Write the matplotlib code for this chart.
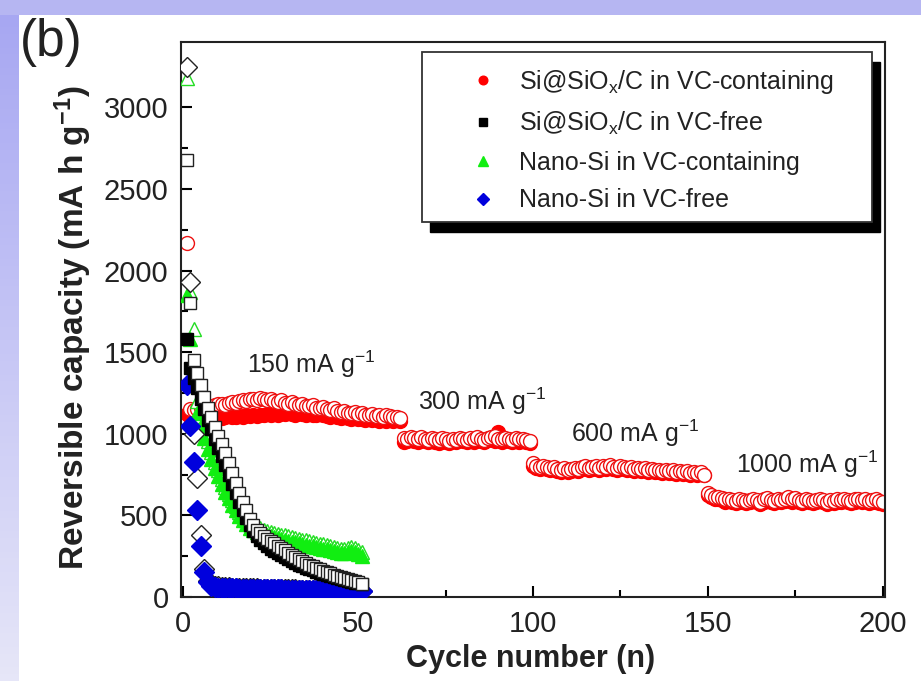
import numpy as np
import matplotlib.pyplot as plt
from matplotlib.patches import Rectangle
from matplotlib.ticker import MultipleLocator

plt.rcParams['font.family'] = ['Liberation Sans', 'DejaVu Sans']
plt.rcParams['mathtext.fontset'] = 'custom'
plt.rcParams['mathtext.rm'] = 'Liberation Sans'
plt.rcParams['mathtext.it'] = 'Liberation Sans:italic'
plt.rcParams['mathtext.bf'] = 'Liberation Sans:bold'

# Si@SiOx/C in VC-containing electrolyte, 200 cycles (rate steps 150/300/600/1000 mA/g)
sic_vc_dis = [2170, 1150, 1145, 1150, 1160, 1165, 1170, 1160, 1175, 1180,
              1185, 1178, 1190, 1195, 1188, 1200, 1205, 1198, 1210, 1215,
              1208, 1220, 1212, 1205, 1215, 1200, 1195, 1205, 1190, 1185,
              1192, 1180, 1175, 1185, 1170, 1168, 1175, 1160, 1155, 1162,
              1150, 1148, 1155, 1140, 1135, 1142, 1130, 1128, 1135, 1120,
              1125, 1118, 1115, 1122, 1110, 1112, 1105, 1115, 1108, 1102,
              1105, 1098,
              975, 968, 980, 972, 965, 978, 970, 962,
              975, 968, 960, 972, 965, 958, 970, 963, 975, 968,
              960, 972, 965, 978, 970, 962, 975, 980, 985, 970,
              965, 975, 968, 960, 972, 965, 970, 962, 955,
              820, 805, 798, 802, 795, 790, 798, 785, 780, 792,
              775, 785, 790, 782, 795, 800, 788, 796, 805, 792,
              800, 795, 808, 798, 790, 802, 795, 788, 796, 785,
              790, 782, 788, 778, 785, 775, 780, 772, 778, 770,
              775, 768, 772, 765, 770, 762, 768, 760, 765, 750,
              640, 625, 615, 610, 605, 598, 602, 595, 590, 598,
              592, 588, 595, 600, 592, 585, 598, 605, 595, 590,
              600, 595, 602, 610, 598, 605, 595, 590, 600, 595,
              588, 595, 600, 592, 585, 595, 590, 598, 592, 600,
              595, 590, 598, 602, 595, 600, 590, 595, 598, 588, 580]
sic_vc_chg = [1120, 1100, 1095, 1090, 1095, 1100, 1092, 1098, 1105, 1100,
              1095, 1102, 1108, 1100, 1105, 1110, 1104, 1112, 1108, 1115,
              1110, 1118, 1112, 1120, 1115, 1122, 1118, 1125, 1120, 1128,
              1122, 1118, 1125, 1120, 1115, 1122, 1118, 1112, 1120, 1115,
              1110, 1105, 1112, 1100, 1095, 1102, 1098, 1090, 1095, 1088,
              1092, 1085, 1090, 1082, 1088, 1080, 1085, 1078, 1082, 1080,
              1085, 1080,
              950, 955, 962, 958, 950, 960, 955, 948,
              958, 952, 945, 955, 950, 945, 955, 950, 960, 955,
              948, 958, 952, 962, 958, 950, 960, 965, 958, 1010,
              952, 960, 955, 948, 958, 952, 958, 950, 945,
              800, 790, 785, 790, 782, 778, 785, 772, 768, 780,
              765, 772, 778, 770, 782, 788, 776, 784, 792, 780,
              788, 782, 795, 786, 778, 790, 782, 776, 784, 772,
              778, 770, 776, 766, 772, 764, 768, 760, 766, 758,
              762, 756, 760, 752, 758, 750, 755, 748, 752, 745,
              625, 612, 602, 598, 592, 585, 590, 582, 578, 585,
              580, 575, 582, 588, 580, 572, 585, 592, 582, 578,
              588, 582, 590, 598, 585, 592, 582, 578, 588, 582,
              575, 582, 588, 580, 572, 582, 578, 585, 580, 588,
              582, 578, 585, 590, 582, 588, 578, 582, 585, 575, 570]

# Si@SiOx/C in VC-free electrolyte, 51 cycles
sic_free_dis = [2680, 1800, 1450, 1370, 1300, 1225, 1160, 1100, 1040, 985,
                935, 880, 820, 760, 700, 640, 585, 530, 480, 440,
                412, 390, 372, 356, 342, 328, 315, 302, 290, 270,
                255, 242, 230, 218, 207, 197, 187, 178, 169, 160,
                152, 144, 137, 130, 123, 116, 110, 104, 98, 92, 80]
sic_free_chg = [1580, 1400, 1340, 1280, 1215, 1150, 1085, 1030, 970, 915,
                865, 810, 750, 690, 635, 585, 535, 485, 440, 405,
                375, 350, 330, 312, 296, 282, 268, 255, 243, 232,
                220, 209, 199, 189, 180, 171, 163, 155, 147, 140,
                133, 126, 120, 114, 108, 103, 98, 93, 88, 84, 78]

# Nano-Si in VC-containing electrolyte, 51 cycles
nsi_vc_dis = [3180, 1870, 1640, 1200, 1110, 1030, 955, 890, 830, 775,
              722, 675, 632, 592, 556, 523, 495, 470, 450, 438,
              428, 420, 413, 406, 400, 394, 388, 382, 377, 372,
              367, 362, 357, 352, 347, 342, 337, 332, 327, 322,
              317, 312, 306, 300, 295, 292, 300, 308, 302, 290, 275]
nsi_vc_chg = [1850, 1580, 1300, 1130, 1050, 975, 905, 845, 790, 740,
              690, 645, 605, 565, 530, 498, 470, 445, 425, 410,
              400, 392, 385, 378, 372, 366, 360, 355, 350, 345,
              340, 336, 330, 325, 320, 315, 310, 305, 300, 296,
              292, 288, 283, 278, 272, 268, 275, 282, 278, 265, 250]

# Nano-Si in VC-free electrolyte, 51 cycles
nsi_free_dis = [3245, 1930, 1000, 730, 380, 170, 100, 80,
                70, 65, 62, 60, 59, 58, 57, 56, 55, 55,
                54, 53, 53, 52, 51, 51, 50, 50, 49, 48,
                48, 47, 47, 46, 45, 45, 44, 44, 43, 42,
                42, 41, 41, 40, 39, 39, 38, 38, 37, 36,
                36, 35, 35]
nsi_free_chg = [1300, 1050, 830, 530, 310, 155, 90, 70, 62, 58,
                56, 55, 54, 54, 53, 52, 52, 51, 50, 50,
                49, 49, 48, 48, 47, 47, 46, 46, 45, 45,
                44, 44, 43, 43, 42, 42, 41, 41, 40, 40,
                39, 39, 38, 38, 37, 37, 36, 36, 35, 35, 34]

labels = [r'Si@SiO$_\mathregular{x}$/C in VC-containing',
          r'Si@SiO$_\mathregular{x}$/C in VC-free',
          'Nano-Si in VC-containing',
          'Nano-Si in VC-free']
rate_labels = [r'150 mA g$^\mathregular{-1}$', r'300 mA g$^\mathregular{-1}$',
               r'600 mA g$^\mathregular{-1}$', r'1000 mA g$^\mathregular{-1}$']


def cyc(v):
    return np.arange(1, len(v) + 1)


fig = plt.figure(figsize=(9.21, 6.81), dpi=100)
fig.patch.set_facecolor('white')

# lavender slide border (left and top)
bg = fig.add_axes([0, 0, 1, 1], zorder=-10)
bg.axis('off')
bg.set_xlim(0, 921)
bg.set_ylim(681, 0)
grad = np.linspace(0, 1, 100).reshape(-1, 1)
bg.imshow(grad, cmap=plt.matplotlib.colors.LinearSegmentedColormap.from_list(
    'lav', ['#a6a6f2', '#e6e6f8']), extent=[0, 18, 681, 0], aspect='auto')
bg.add_patch(Rectangle((0, 0), 921, 15, color='#b6b6f2', lw=0))

ax = fig.add_axes([181/921, 84/681, 704/921, 555/681])

ms_c, ms_s, ms_t, ms_d = 10, 8.5, 10.5, 10
# open = discharge, filled = charge
ax.plot(cyc(sic_vc_chg), sic_vc_chg, ls='none', marker='o', ms=ms_c,
        mfc='red', mec='red', mew=1, label=labels[0], zorder=2)
ax.plot(cyc(sic_vc_dis), sic_vc_dis, ls='none', marker='o', ms=ms_c,
        mfc='white', mec='#ee1111', mew=1, zorder=2)
ax.plot(cyc(nsi_vc_dis), nsi_vc_dis, ls='none', marker='^', ms=ms_t,
        mfc='white', mec='#22dd22', mew=1, zorder=3)
ax.plot(cyc(nsi_vc_chg), nsi_vc_chg, ls='none', marker='^', ms=ms_t,
        mfc='#11ee11', mec='#11ee11', mew=1, label=labels[2], zorder=3)
ax.plot(cyc(nsi_free_dis), nsi_free_dis, ls='none', marker='D', ms=ms_d,
        mfc='white', mec='#222222', mew=1, zorder=4)
ax.plot(cyc(nsi_free_chg), nsi_free_chg, ls='none', marker='D', ms=ms_d,
        mfc='#0000dd', mec='#0000dd', mew=1, label=labels[3], zorder=4)
ax.plot(cyc(sic_free_chg), sic_free_chg, ls='none', marker='s', ms=ms_s,
        mfc='black', mec='black', mew=1, label=labels[1], zorder=5)
ax.plot(cyc(sic_free_dis), sic_free_dis, ls='none', marker='s', ms=ms_s,
        mfc='white', mec='#222222', mew=1, zorder=5)

ax.set_xlim(-0.6, 200.6)
ax.set_ylim(0, 3400)
ax.xaxis.set_major_locator(MultipleLocator(50))
ax.xaxis.set_minor_locator(MultipleLocator(25))
ax.yaxis.set_major_locator(MultipleLocator(500))
ax.yaxis.set_minor_locator(MultipleLocator(250))
ax.tick_params(which='both', direction='in', top=False, right=False,
               width=1.5, labelsize=21, pad=9, labelcolor='#222222')
ax.tick_params(which='major', length=8)
ax.tick_params(which='minor', length=5)
for s in ax.spines.values():
    s.set_linewidth(1.5)
    s.set_color('#222222')

ax.set_xlabel('Cycle number (n)', fontsize=22, fontweight='bold', color='#222222')
ax.set_ylabel(r'Reversible capacity (mA h g$^\mathbf{-1}$)', fontsize=24,
              fontweight='bold', color='#222222')
ax.xaxis.set_label_coords(0.496, -0.085)
ax.yaxis.set_label_coords(-0.124, 0.485)

for txt, xc, yv in zip(rate_labels, [18.3, 67, 111, 158], [1374, 1147, 951, 761]):
    ax.text(xc, yv, txt, fontsize=18, ha='left', va='baseline', color='#222222')

# legend box with hard black shadow
ax.add_patch(Rectangle((0.3537, 0.658), 0.6392, 0.3063, transform=ax.transAxes,
                       facecolor='black', edgecolor='black', lw=1, zorder=8))
ax.add_patch(Rectangle((0.3423, 0.6757), 0.6392, 0.3063, transform=ax.transAxes,
                       facecolor='white', edgecolor='#333333', lw=1.3, zorder=9))
h, l = ax.get_legend_handles_labels()
hd = dict(zip(l, h))
leg = ax.legend([hd[x] for x in labels], labels, loc='upper left',
                bbox_to_anchor=(0.383, 0.976), frameon=False, fontsize=18,
                borderpad=0, handlelength=1.6, handletextpad=0.64,
                labelspacing=0.55, markerscale=0.62)
leg.set_zorder(10)
for t in leg.get_texts():
    t.set_color('#222222')

fig.text(20/921, 1 - 18/681, '(b)', fontsize=37, ha='left', va='top',
         color='#222222')

fig.savefig('out.png', dpi=100)
